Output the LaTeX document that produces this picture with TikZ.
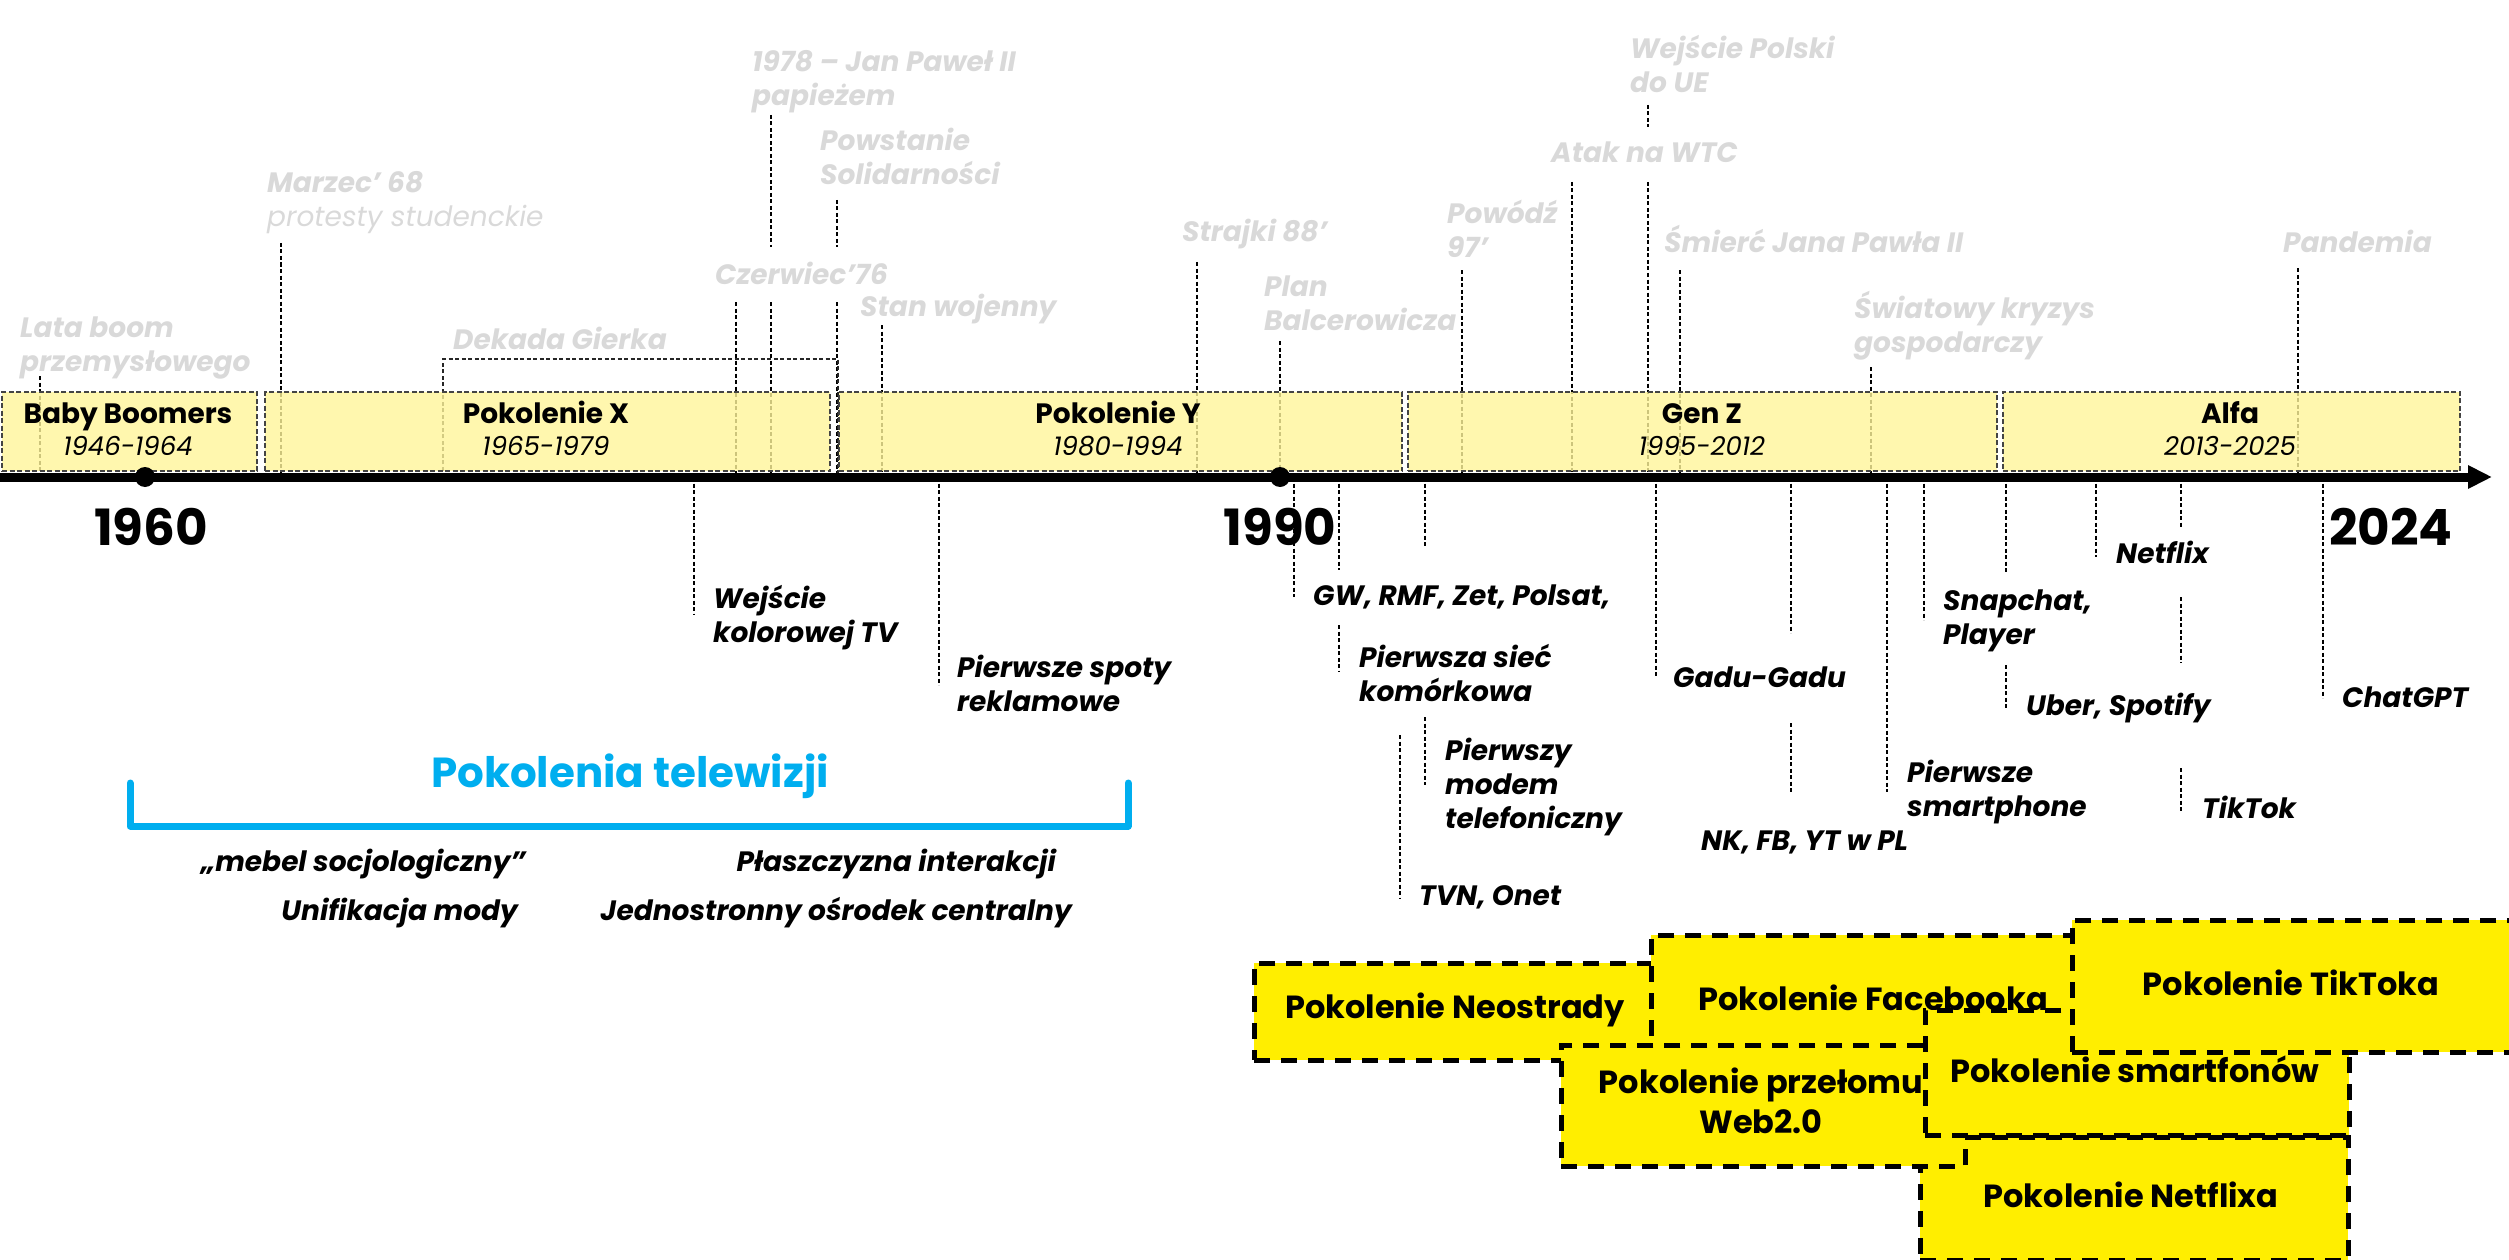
\documentclass[tikz,border=0pt]{standalone}
\usepackage{fontspec}
\setmainfont{Poppins}
\usetikzlibrary{arrows.meta}
\definecolor{evgray}{HTML}{D9D9D9}
\definecolor{genfill}{HTML}{FFF59A}
\definecolor{genedge}{HTML}{444444}
\definecolor{hotyellow}{HTML}{FFEE00}
\definecolor{tvblue}{HTML}{00AEEF}
\newcommand\evfont{\fontsize{28}{34}\selectfont\bfseries\itshape}
\begin{document}
\begin{tikzpicture}[x=1pt,y=-1pt,
  evline/.style={line width=1.3pt, dash pattern=on 4pt off 2.5pt, black},
  genbox/.style={draw=genedge, line width=2pt, dash pattern=on 5pt off 2.5pt, fill=genfill, fill opacity=0.8, inner sep=0, anchor=north west},
  hotbox/.style={draw=black, line width=4.5pt, dash pattern=on 16pt off 11pt, fill=hotyellow, inner sep=0, anchor=north west},
  gtitle/.style={anchor=base, inner sep=0, font=\fontsize{28}{32}\selectfont\bfseries},
  gdate/.style={anchor=base, inner sep=0, font=\fontsize{26}{30}\selectfont\itshape},
  yearlbl/.style={anchor=base, inner sep=0, font=\fontsize{50}{56}\selectfont\bfseries},
  evup/.style={anchor=base west, inner sep=0, align=left, font=\evfont, text=evgray},
  evdown/.style={anchor=base west, inner sep=0, align=left, font=\evfont, text=black},
  tvnote/.style={anchor=base east, inner sep=0, font=\evfont, text=black},
  boxtxt/.style={anchor=base, inner sep=0, align=center, font=\fontsize{32}{40}\selectfont\bfseries},
  dot/.style={circle, fill=black, inner sep=0, minimum size=20pt}
]
\useasboundingbox (0,0) rectangle (2509,1260);

% leader lines above the axis
\foreach \x/\a/\b in {40/376/477, 281/243/477, 736/302/477, 771/115/247, 771/302/477,
  837/200/247, 837/302/477, 882/325/477, 1197/262/477, 1280/341/477, 1462/270/477,
  1572/182/477, 1648/105/127, 1648/182/477, 1680/270/477, 1871/367/477, 2298/268/477}
  \draw[evline] (\x,\a) -- (\x,\b);
% leader lines below the axis
\foreach \x/\a/\b in {694/477/615, 939/477/685, 1294/477/597, 1339/477/570, 1339/625/672,
  1425/477/547, 1425/717/785, 1400/735/898, 1656/477/677, 1791/477/633, 1791/723/792,
  1887/477/792, 1924/477/620, 2006/477/572, 2006/665/708, 2096/477/557,
  2181/477/528, 2181/597/663, 2181/768/812, 2323/477/698}
  \draw[evline] (\x,\a) -- (\x,\b);

% Dekada Gierka bracket
\coordinate (gkL) at (443,477);
\coordinate (gkR) at (838,477);
\draw[line width=1.5pt, dash pattern=on 4pt off 2.5pt, black!85] (gkL) -- (443,359) -- (838,359) -- (gkR);

% generation boxes
\node[genbox, minimum width=255pt, minimum height=79pt] (bbBox) at (1,391) {};
\node[genbox, minimum width=565pt, minimum height=79pt] (xBox) at (264,391) {};
\node[genbox, minimum width=563pt, minimum height=79pt] (yBox) at (838,391) {};
\node[genbox, minimum width=589pt, minimum height=79pt] (zBox) at (1407,391) {};
\node[genbox, minimum width=457pt, minimum height=79pt] (aBox) at (2002,391) {};

\node[gtitle] (bbT) at (128,423) {Baby Boomers};
\node[gdate] (bbD) at (128,455) {1946-1964};
\node[gtitle] (xT) at (546,423) {Pokolenie X};
\node[gdate] (xD) at (546,455) {1965-1979};
\node[gtitle] (yT) at (1118,423) {Pokolenie Y};
\node[gdate] (yD) at (1118,455) {1980-1994};
\node[gtitle] (zT) at (1702,423) {Gen Z};
\node[gdate] (zD) at (1702,455) {1995-2012};
\node[gtitle] (aT) at (2230,423) {Alfa};
\node[gdate] (aD) at (2230,455) {2013-2025};

% axis
\coordinate (axL) at (0,477);
\coordinate (axR) at (2492,477);
\draw[line width=9pt, -{Triangle[length=24pt,width=22pt]}] (axL) -- (axR);
\node[dot] (d1960) at (145,477) {};
\node[dot] (d1990) at (1280,477) {};
\node[yearlbl] (y1960) at (151,545) {1960};
\node[yearlbl] (y1990) at (1280,545) {1990};
\node[yearlbl] (y2024) at (2391,545) {2024};

% events above (anchor = baseline of the last line)
\node[evup] (lata) at (20,371) {Lata boom\\przemysłowego};
\node[evup] (marzec) at (267,226) {Marzec’ 68\\{\mdseries protesty studenckie}};
\node[evup, anchor=base] (dekada) at (560,349) {Dekada Gierka};
\node[evup] (czerwiec) at (715,284) {Czerwiec’76};
\node[evup] (jp2) at (752,106) {1978 – Jan Paweł II\\papieżem};
\node[evup] (solid) at (820,185) {Powstanie\\Solidarności};
\node[evup] (stan) at (860,316) {Stan wojenny};
\node[evup] (strajki) at (1182,241) {Strajki 88’};
\node[evup] (plan) at (1264,330) {Plan\\Balcerowicza};
\node[evup] (powodz) at (1447,258) {Powódź\\97’};
\node[evup] (wtc) at (1551,163) {Atak na WTC};
\node[evup] (ue) at (1630,93) {Wejście Polski\\do UE};
\node[evup] (smierc) at (1664,252) {Śmierć Jana Pawła II};
\node[evup] (kryzys) at (1854,352) {Światowy kryzys\\gospodarczy};
\node[evup] (pandemia) at (2283,252) {Pandemia};

% events below (anchor = baseline of the last line)
\node[evdown] (kolor) at (713,642) {Wejście\\kolorowej TV};
\node[evdown] (spoty) at (957,711) {Pierwsze spoty\\reklamowe};
\node[evdown] (gw) at (1313,605) {GW, RMF, Zet, Polsat,};
\node[evdown] (siec) at (1359,701) {Pierwsza sieć\\komórkowa};
\node[evdown] (modem) at (1445,828) {Pierwszy\\modem\\telefoniczny};
\node[evdown] (tvn) at (1419,905) {TVN, Onet};
\node[evdown] (gadu) at (1673,687) {Gadu-Gadu};
\node[evdown] (nk) at (1701,850) {NK, FB, YT w PL};
\node[evdown] (smartph) at (1907,816) {Pierwsze\\smartphone};
\node[evdown] (snap) at (1943,644) {Snapchat,\\Player};
\node[evdown] (uber) at (2026,715) {Uber, Spotify};
\node[evdown] (netflix) at (2116,563) {Netflix};
\node[evdown] (tiktok) at (2202,818) {TikTok};
\node[evdown] (chatgpt) at (2342,707) {ChatGPT};

% TV generations
\node[anchor=base, inner sep=0, font=\fontsize{42}{48}\selectfont\bfseries, text=tvblue] (tvgen) at (630,787) {Pokolenia telewizji};
\coordinate (brL) at (130,783);
\coordinate (brR) at (1128,783);
\draw[tvblue, line width=7pt, line join=round, line cap=round] (brL) -- (130,826) -- (1128,826) -- (brR);
\node[tvnote] (mebel) at (526,871) {„mebel socjologiczny”};
\node[tvnote] (plaszcz) at (1056,871) {Płaszczyzna interakcji};
\node[tvnote] (unif) at (518,920) {Unifikacja mody};
\node[tvnote] (jedno) at (1072,920) {Jednostronny ośrodek centralny};

% internet generations
\node[hotbox, minimum width=448pt, minimum height=97pt] (neoBox) at (1252,961) {};
\node[boxtxt] (neoT) at (1455,1018) {Pokolenie Neostrady};
\node[hotbox, minimum width=451pt, minimum height=147pt] (fbBox) at (1649,933) {};
\node[boxtxt] (fbT) at (1873,1010) {Pokolenie Facebooka};
\node[hotbox, minimum width=428pt, minimum height=123pt] (nfBox) at (1918,1135) {};
\node[boxtxt] (nfT) at (2131,1207) {Pokolenie Netflixa};
\node[hotbox, minimum width=404pt, minimum height=121pt] (webBox) at (1559,1043) {};
\node[boxtxt] (webT) at (1761,1133) {Pokolenie przełomu\\Web2.0};
\node[hotbox, minimum width=424pt, minimum height=125pt] (smBox) at (1923,1008) {};
\node[boxtxt] (smT) at (2135,1082) {Pokolenie smartfonów};
\node[hotbox, minimum width=470pt, minimum height=132pt] (ttBox) at (2070,918) {};
\node[boxtxt] (ttT) at (2291,995) {Pokolenie TikToka};
\end{tikzpicture}
\end{document}
